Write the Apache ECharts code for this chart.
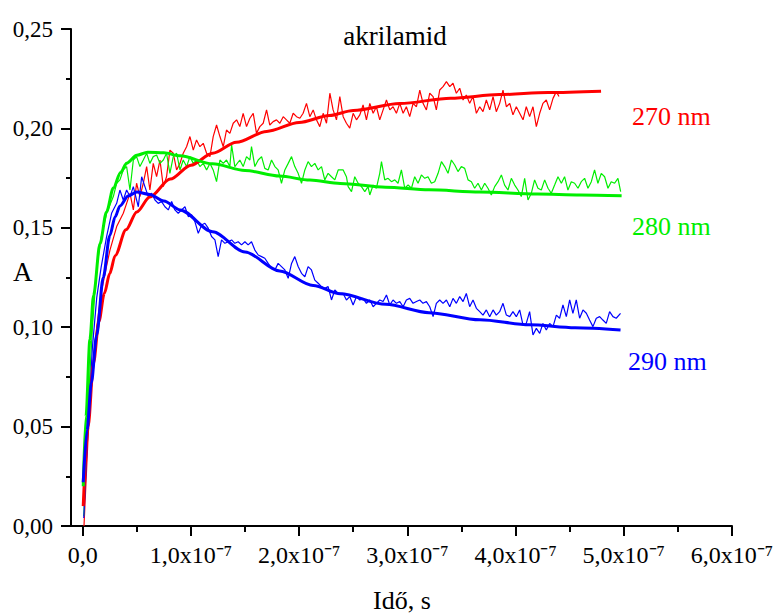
<!DOCTYPE html>
<html>
<head>
<meta charset="utf-8">
<script src="https://cdn.jsdelivr.net/npm/echarts@6/dist/echarts.min.js"></script>
<style>html,body{margin:0;padding:0;background:#fff}#c{width:774px;height:616px}</style>
</head>
<body>
<div id="c"></div>
<script>
// time in units of 1e-7 s, absorbance A
var xTicks = [0, 1, 2, 3, 4, 5, 6];
var xMinorTicks = [0.5, 1.5, 2.5, 3.5, 4.5, 5.5];
var seriesNames = ['270 nm', '280 nm', '290 nm'];
var titleText = 'akrilamid';
var xName = 'Idő, s';
var yName = 'A';

var data270 = [[0.012,0.000],[0.05,0.045],[0.09,0.080],[0.13,0.100],[0.17,0.117],[0.21,0.128],
[0.252,0.1388],[0.314,0.1506],[0.375,0.1573],[0.406,0.1623],[0.437,0.1673],[0.468,0.1590],[0.498,0.1724],[0.529,0.1657],[0.560,0.1724],[0.591,0.1808],[0.621,0.1690],[0.652,0.1824],[0.683,0.1757],[0.714,0.1841],[0.745,0.1707],[0.775,0.1757],[0.806,0.1891],[0.837,0.1875],[0.868,0.1791],[0.899,0.1824],[0.929,0.1875],[0.960,0.1908],[0.991,0.1959],[1.022,0.1891],[1.052,0.1942],[1.083,0.1908],[1.114,0.1925],[1.145,0.1875],[1.176,0.1858],[1.206,0.1959],[1.237,0.2017],[1.268,0.1959],[1.299,0.1908],[1.329,0.1992],[1.360,0.1975],[1.391,0.2026],[1.422,0.2043],[1.452,0.2009],[1.483,0.2076],[1.514,0.2009],[1.545,0.2051],[1.576,0.2076],[1.606,0.1975],[1.637,0.2009],[1.668,0.2026],[1.699,0.2093],[1.729,0.2017],[1.760,0.2034],[1.791,0.2043],[1.822,0.2026],[1.853,0.2059],[1.883,0.2043],[1.914,0.2026],[1.945,0.2076],[1.976,0.2059],[2.007,0.2051],[2.037,0.2076],[2.068,0.2126],[2.099,0.2059],[2.130,0.2093],[2.160,0.2043],[2.191,0.2009],[2.222,0.2076],[2.253,0.2026],[2.284,0.2177],[2.314,0.2093],[2.345,0.2043],[2.376,0.2160],
[2.407,0.2059],[2.437,0.2026],[2.468,0.2001],[2.499,0.2076],[2.530,0.2043],[2.561,0.2068],[2.591,0.2118],[2.622,0.2043],[2.653,0.2126],[2.684,0.2076],[2.714,0.2109],[2.745,0.2043],[2.776,0.2093],[2.807,0.2143],[2.838,0.2093],[2.868,0.2109],[2.899,0.2076],[2.930,0.2126],[2.961,0.2076],[2.991,0.2109],[3.022,0.2059],[3.053,0.2126],[3.084,0.2109],[3.115,0.2193],[3.145,0.2126],[3.176,0.2093],[3.207,0.2177],[3.238,0.2160],[3.268,0.2093],[3.299,0.2193],[3.330,0.2210],[3.361,0.2235],[3.392,0.2210],[3.422,0.2227],[3.453,0.2177],[3.484,0.2202],[3.515,0.2143],[3.545,0.2168],[3.576,0.2126],[3.607,0.2160],[3.638,0.2076],[3.669,0.2109],[3.699,0.2084],[3.730,0.2143],[3.761,0.2093],[3.792,0.2160],[3.822,0.2084],[3.853,0.2126],[3.884,0.2193],[3.915,0.2109],[3.946,0.2126],[3.976,0.2068],[4.007,0.2109],[4.038,0.2076],[4.069,0.2043],[4.099,0.2109],[4.130,0.2059],[4.161,0.2109],[4.192,0.2009],[4.223,0.2076],[4.253,0.2126],[4.284,0.2143],[4.315,0.2093],[4.346,0.2151],[4.377,0.2185],[4.401,0.2160]];

var data280 = [[0.01,0.005],[0.05,0.060],[0.09,0.100],[0.13,0.130],[0.17,0.145],
[0.221,0.1573],[0.283,0.1657],[0.314,0.1724],[0.344,0.1741],[0.375,0.1791],[0.406,0.1808],[0.437,0.1690],[0.468,0.1841],[0.498,0.1858],[0.529,0.1808],[0.560,0.1841],[0.591,0.1875],[0.621,0.1824],[0.652,0.1858],[0.683,0.1866],[0.714,0.1824],[0.745,0.1841],[0.775,0.1875],[0.806,0.1774],[0.837,0.1858],[0.868,0.1875],[0.899,0.1791],[0.929,0.1841],[0.960,0.1808],[0.991,0.1858],[1.022,0.1824],[1.052,0.1841],[1.083,0.1808],[1.114,0.1824],[1.145,0.1791],[1.176,0.1824],[1.206,0.1791],[1.237,0.1732],[1.268,0.1841],[1.299,0.1824],[1.329,0.1841],[1.360,0.1808],[1.376,0.1917],[1.406,0.1808],[1.452,0.1841],[1.483,0.1808],[1.514,0.1858],[1.545,0.1841],[1.560,0.1908],[1.591,0.1808],[1.622,0.1841],[1.653,0.1858],[1.683,0.1799],[1.714,0.1791],[1.745,0.1841],[1.776,0.1808],[1.806,0.1791],[1.837,0.1724],[1.868,0.1791],[1.899,0.1824],[1.930,0.1858],[1.960,0.1808],[1.991,0.1774],[2.022,0.1724],[2.053,0.1791],[2.083,0.1833],[2.114,0.1808],[2.145,0.1824],[2.176,0.1791],[2.207,0.1808],[2.237,0.1741],[2.268,0.1774],[2.299,0.1757],[2.330,0.1741],[2.361,0.1791],
[2.407,0.1791],[2.437,0.1757],[2.453,0.1707],[2.484,0.1682],[2.514,0.1757],[2.545,0.1724],[2.576,0.1707],[2.607,0.1682],[2.637,0.1707],[2.653,0.1665],[2.684,0.1715],[2.714,0.1699],[2.745,0.1774],[2.761,0.1833],[2.791,0.1741],[2.822,0.1749],[2.853,0.1732],[2.884,0.1741],[2.914,0.1724],[2.945,0.1791],[2.976,0.1699],[3.007,0.1715],[3.038,0.1699],[3.068,0.1757],[3.099,0.1724],[3.130,0.1766],[3.161,0.1749],[3.191,0.1757],[3.222,0.1724],[3.253,0.1732],[3.284,0.1774],[3.315,0.1833],[3.345,0.1808],[3.376,0.1774],[3.407,0.1841],[3.438,0.1816],[3.468,0.1783],[3.499,0.1808],[3.530,0.1799],[3.561,0.1741],[3.592,0.1732],[3.622,0.1699],[3.653,0.1724],[3.684,0.1690],[3.715,0.1724],[3.745,0.1699],[3.776,0.1665],[3.807,0.1707],[3.838,0.1732],[3.869,0.1766],[3.899,0.1715],[3.930,0.1690],[3.961,0.1749],[3.992,0.1715],[4.022,0.1690],[4.053,0.1657],[4.084,0.1749],[4.115,0.1640],[4.146,0.1674],[4.176,0.1741],[4.207,0.1699],[4.238,0.1690],[4.269,0.1741],[4.300,0.1699],[4.330,0.1674],[4.361,0.1715],[4.392,0.1757],[4.423,0.1724],[4.453,0.1757],[4.484,0.1690],[4.515,0.1732],[4.546,0.1724],[4.577,0.1699],[4.607,0.1732],[4.638,0.1749],[4.669,0.1699],[4.700,0.1732],[4.730,0.1791],[4.761,0.1724],[4.792,0.1774],[4.823,0.1757],[4.854,0.1699],[4.884,0.1732],[4.915,0.1724],[4.946,0.1749],[4.971,0.1682]];

var data290 = [[0.01,0.004],[0.05,0.050],[0.09,0.090],[0.13,0.115],[0.17,0.130],
[0.221,0.1456],[0.267,0.1573],[0.314,0.1623],[0.344,0.1690],[0.375,0.1640],[0.406,0.1690],[0.437,0.1657],[0.468,0.1707],[0.498,0.1640],[0.514,0.1606],[0.545,0.1757],[0.575,0.1707],[0.606,0.1657],[0.637,0.1674],[0.668,0.1640],[0.698,0.1623],[0.729,0.1632],[0.760,0.1606],[0.791,0.1590],[0.822,0.1632],[0.852,0.1590],[0.883,0.1573],[0.914,0.1590],[0.945,0.1606],[0.976,0.1556],[1.006,0.1565],[1.037,0.1531],[1.068,0.1472],[1.099,0.1514],[1.129,0.1523],[1.160,0.1498],[1.191,0.1456],[1.222,0.1439],[1.252,0.1355],[1.283,0.1439],[1.314,0.1422],[1.345,0.1430],[1.376,0.1439],[1.406,0.1422],[1.437,0.1430],[1.468,0.1414],[1.499,0.1430],[1.529,0.1414],[1.560,0.1430],[1.591,0.1388],[1.622,0.1363],[1.653,0.1355],[1.683,0.1347],[1.714,0.1321],[1.745,0.1296],[1.776,0.1288],[1.806,0.1321],[1.837,0.1305],[1.868,0.1288],[1.899,0.1246],[1.930,0.1321],[1.960,0.1355],[1.991,0.1305],[2.022,0.1271],[2.053,0.1254],[2.083,0.1305],[2.114,0.1288],[2.145,0.1237],[2.176,0.1221],[2.207,0.1204],[2.237,0.1196],[2.268,0.1204],[2.299,0.1137],[2.330,0.1187],[2.361,0.1170],
[2.407,0.1170],[2.437,0.1137],[2.468,0.1154],[2.499,0.1112],[2.530,0.1154],[2.561,0.1137],[2.591,0.1145],[2.622,0.1120],[2.653,0.1137],[2.684,0.1103],[2.714,0.1120],[2.745,0.1137],[2.776,0.1129],[2.807,0.1162],[2.838,0.1112],[2.868,0.1137],[2.899,0.1120],[2.930,0.1129],[2.961,0.1103],[2.991,0.1137],[3.022,0.1145],[3.053,0.1120],[3.084,0.1129],[3.115,0.1137],[3.145,0.1120],[3.176,0.1129],[3.207,0.1103],[3.238,0.1053],[3.268,0.1120],[3.299,0.1137],[3.330,0.1120],[3.361,0.1137],[3.392,0.1103],[3.422,0.1145],[3.453,0.1120],[3.484,0.1154],[3.515,0.1129],[3.545,0.1170],[3.576,0.1103],[3.607,0.1137],[3.638,0.1095],[3.669,0.1078],[3.699,0.1061],[3.730,0.1087],[3.761,0.1053],[3.792,0.1087],[3.822,0.1061],[3.853,0.1078],[3.884,0.1120],[3.915,0.1061],[3.946,0.1053],[3.976,0.1078],[4.007,0.1053],[4.038,0.1087],[4.069,0.1011],[4.099,0.1019],[4.130,0.1078],[4.161,0.0961],[4.192,0.0994],[4.223,0.0969],[4.253,0.1019],[4.284,0.0986],[4.315,0.1019],[4.346,0.1003],[4.377,0.1061],[4.407,0.1045],[4.438,0.1112],[4.469,0.1053],[4.500,0.1137],[4.530,0.1070],[4.561,0.1137],[4.592,0.1045],[4.623,0.1087],[4.654,0.1070],[4.684,0.1036],[4.715,0.1003],[4.746,0.1045],[4.777,0.1053],[4.807,0.1036],[4.838,0.1019],[4.869,0.1078],[4.900,0.1053],[4.930,0.1045],[4.970,0.1070]];

var fit270 = [[0.005,0.010],[0.05,0.050],[0.1,0.082],[0.15,0.103],[0.2,0.117],[0.25,0.127],[0.3,0.136],[0.4,0.149],[0.5,0.158],[0.62,0.1655],[0.81,0.1745],[1.0,0.1815],[1.2,0.1875],[1.42,0.1930],[1.7,0.1985],[2.0,0.2030],[2.28,0.2065],[2.5,0.2090],[2.93,0.2125],[3.4,0.2152],[3.85,0.2170],[4.3,0.2180],[4.79,0.2187]];
var fit280 = [[0.005,0.020],[0.03,0.055],[0.067,0.094],[0.1,0.116],[0.16,0.142],[0.22,0.158],[0.283,0.170],[0.35,0.1778],[0.406,0.1825],[0.5,0.1865],[0.6,0.1880],[0.75,0.1877],[0.9,0.1862],[1.2,0.1822],[1.5,0.1788],[1.82,0.1760],[2.1,0.1740],[2.38,0.1723],[2.8,0.1704],[3.2,0.1691],[3.67,0.1680],[4.2,0.1670],[4.6,0.1665],[4.98,0.1661]];
var fit290 = [[0.005,0.022],[0.04,0.048],[0.08,0.072],[0.129,0.096],[0.19,0.125],[0.25,0.146],[0.3,0.1555],[0.344,0.1610],[0.42,0.1660],[0.5,0.1680],[0.62,0.1668],[0.75,0.1635],[0.9,0.1590],[1.2,0.1480],[1.5,0.1378],[1.82,0.1283],[2.13,0.1210],[2.38,0.1168],[2.8,0.1115],[3.2,0.1073],[3.67,0.1037],[4.13,0.1012],[4.55,0.0997],[4.97,0.0986]];

var RED = '#ff0000', GREEN = '#00ee00', BLUE = '#0000ff';
var FONT = '"Liberation Serif", "Times New Roman", serif';

var chart = echarts.init(document.getElementById('c'), null, {renderer: 'svg'});

function dataSeries(name, d, color) {
  return {name: name, type: 'line', data: d, showSymbol: false, symbol: 'none',
    lineStyle: {color: color, width: 1.2}, animation: false, z: 2};
}
function fitSeries(name, d, color) {
  return {name: name + ' fit', type: 'line', data: d, showSymbol: false, symbol: 'none', smooth: 0.3, smoothMonotone: 'x',
    lineStyle: {color: color, width: 3}, animation: false, z: 3};
}

chart.setOption({
  backgroundColor: '#fff',
  animation: false,
  grid: {left: 71, right: 42, top: 29, bottom: 90, containLabel: false, outerBoundsMode: 'none'},
  xAxis: [{
    type: 'value', min: -0.108, max: 6,
    axisLine: {show: true, onZero: false, lineStyle: {color: '#000', width: 2}},
    axisTick: {show: true, length: 10, lineStyle: {color: '#000', width: 2}, customValues: xTicks},
    splitLine: {show: false},
    axisLabel: {
      customValues: xTicks, margin: 17, color: '#000', fontFamily: FONT, fontSize: 24,
      formatter: function (v) { return v === 0 ? '0,0' : v + ',0x10\u207B\u2077'; }
    }
  }, {
    type: 'value', min: -0.108, max: 6, position: 'bottom', offset: 0,
    axisLine: {show: false},
    axisTick: {show: true, length: 6, lineStyle: {color: '#000', width: 2}, customValues: xMinorTicks},
    axisLabel: {show: false},
    splitLine: {show: false}
  }],
  yAxis: {
    type: 'value', min: 0, max: 0.25, interval: 0.05,
    axisLine: {show: true, onZero: false, lineStyle: {color: '#000', width: 2}},
    axisTick: {show: true, length: 10, lineStyle: {color: '#000', width: 2}},
    minorTick: {show: true, splitNumber: 2, length: 5, lineStyle: {color: '#000', width: 2}},
    splitLine: {show: false},
    axisLabel: {margin: 18, color: '#000', fontFamily: FONT, fontSize: 23,
      formatter: function (v) { return v.toFixed(2).replace('.', ','); }}
  },
  graphic: [
    {type: 'text', style: {text: titleText, x: 395, y: 36, textAlign: 'center', textVerticalAlign: 'middle', font: '27px ' + FONT, fill: '#000'}},
    {type: 'text', style: {text: yName, x: 13, y: 272, textAlign: 'left', textVerticalAlign: 'middle', font: '27px ' + FONT, fill: '#000'}},
    {type: 'text', style: {text: xName, x: 402, y: 600, textAlign: 'center', textVerticalAlign: 'middle', font: '26px ' + FONT, fill: '#000'}},
    {type: 'text', style: {text: seriesNames[0], x: 632, y: 116, textAlign: 'left', textVerticalAlign: 'middle', font: '26px ' + FONT, fill: RED}},
    {type: 'text', style: {text: seriesNames[1], x: 632, y: 226, textAlign: 'left', textVerticalAlign: 'middle', font: '26px ' + FONT, fill: GREEN}},
    {type: 'text', style: {text: seriesNames[2], x: 628, y: 361, textAlign: 'left', textVerticalAlign: 'middle', font: '26px ' + FONT, fill: BLUE}}
  ],
  series: [
    dataSeries(seriesNames[0], data270, RED),
    dataSeries(seriesNames[1], data280, GREEN),
    dataSeries(seriesNames[2], data290, BLUE),
    fitSeries(seriesNames[0], fit270, RED),
    fitSeries(seriesNames[1], fit280, GREEN),
    fitSeries(seriesNames[2], fit290, BLUE)
  ]
});
</script>
</body>
</html>
